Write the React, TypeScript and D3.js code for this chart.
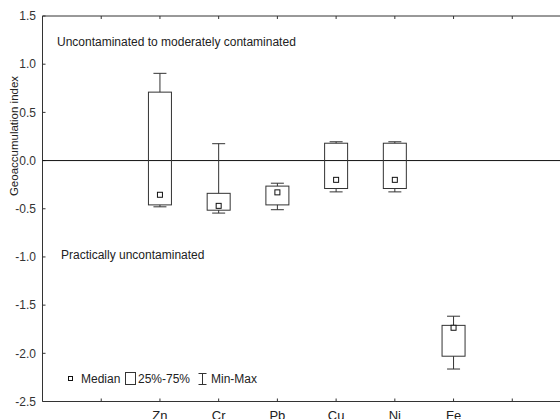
import React from "react";
import * as d3 from "d3";

// element groups, one box per element
const categories = ["Zn", "Cr", "Pb", "Cu", "Ni", "Fe"];
const minValues = [-0.48, -0.545, -0.51, -0.325, -0.325, -2.163];
const q1Values = [-0.46, -0.515, -0.46, -0.29, -0.29, -2.03];
const medianValues = [-0.355, -0.47, -0.33, -0.2, -0.2, -1.735];
const q3Values = [0.71, -0.34, -0.265, 0.18, 0.18, -1.71];
const maxValues = [0.905, 0.175, -0.235, 0.195, 0.195, -1.615];

const yTicks = [-2.5, -2.0, -1.5, -1.0, -0.5, 0.0, 0.5, 1.0, 1.5];
const xSlots = [1, 2, 3, 4, 5, 6, 7, 8];

const width = 560;
const height = 419;
const font = "'Liberation Sans', Arial, sans-serif";
const ink = "#333";

const App = () => {
  const x = d3.scaleLinear().domain([0, 9]).range([42.5, 571]);
  const y = d3.scaleLinear().domain([-2.5, 1.5]).range([401.5, 16]);
  const left = x(0);
  const top = y(1.5);
  const bottom = y(-2.5);
  const boxW = 23;
  const capW = 13;

  const boxes = categories.map((name, i) => ({
    name,
    cx: x(i + 2),
    min: minValues[i],
    q1: q1Values[i],
    med: medianValues[i],
    q3: q3Values[i],
    max: maxValues[i],
  }));

  return (
    <svg
      width={width}
      height={height}
      style={{ position: "absolute", left: 0, top: 0, background: "#fff" }}
      fontFamily={font}
    >
      <rect width={width} height={height} fill="#fff" />

      {/* frame */}
      <line x1={left} x2={width} y1={top} y2={top} stroke={ink} />
      <line x1={left} x2={width} y1={bottom} y2={bottom} stroke={ink} />
      <line x1={left} x2={left} y1={top} y2={bottom} stroke={ink} />

      {/* x ticks, inside on top and bottom */}
      {xSlots.map((s) => (
        <g key={s}>
          <line x1={x(s)} x2={x(s)} y1={top} y2={top + 3} stroke={ink} />
          <line x1={x(s)} x2={x(s)} y1={bottom} y2={bottom - 3} stroke={ink} />
        </g>
      ))}
      {categories.map((c, i) => (
        <text
          key={c}
          x={x(i + 2)}
          y={420}
          textAnchor="middle"
          fontSize={13}
          fill="#222"
        >
          {c}
        </text>
      ))}

      {/* y ticks */}
      {yTicks.map((t) => (
        <g key={t}>
          <line x1={left} x2={left + 3} y1={y(t)} y2={y(t)} stroke={ink} />
          <text
            x={36}
            y={y(t)}
            dy="0.35em"
            textAnchor="end"
            fontSize={12}
            fill="#333"
          >
            {t.toFixed(1)}
          </text>
        </g>
      ))}

      <text
        transform={`translate(18,136) rotate(-90)`}
        textAnchor="middle"
        fontSize={11.5}
        fill="#222"
      >
        Geoaccumulation index
      </text>

      {/* reference line at 0 */}
      <line x1={left} x2={width} y1={y(0)} y2={y(0)} stroke="#111" />

      {/* boxes */}
      {boxes.map((b) => (
        <g key={b.name} stroke={ink} fill="none">
          <line x1={b.cx} x2={b.cx} y1={y(b.max)} y2={y(b.q3)} />
          <line x1={b.cx} x2={b.cx} y1={y(b.q1)} y2={y(b.min)} />
          <line x1={b.cx - capW / 2} x2={b.cx + capW / 2} y1={y(b.max)} y2={y(b.max)} />
          <line x1={b.cx - capW / 2} x2={b.cx + capW / 2} y1={y(b.min)} y2={y(b.min)} />
          <rect
            x={b.cx - boxW / 2}
            y={y(b.q3)}
            width={boxW}
            height={y(b.q1) - y(b.q3)}
          />
          <rect
            x={b.cx - 2.5}
            y={y(b.med) - 2.5}
            width={5}
            height={5}
            fill="#fff"
            stroke="#111"
          />
        </g>
      ))}

      {/* annotations */}
      <text x={57} y={46} fontSize={12} fill="#222">
        Uncontaminated to moderately contaminated
      </text>
      <text x={61} y={259} fontSize={12} fill="#222">
        Practically uncontaminated
      </text>

      {/* legend */}
      <g fontSize={12} fill="#222">
        <rect x={68.5} y={376.5} width={4} height={4} fill="#fff" stroke="#111" />
        <text x={81} y={383}>Median</text>
        <rect x={125.5} y={372.5} width={10} height={12} fill="#fff" stroke={ink} />
        <text x={138} y={383}>25%-75%</text>
        <g stroke={ink}>
          <line x1={198.5} x2={206.5} y1={373.5} y2={373.5} />
          <line x1={198.5} x2={206.5} y1={384.5} y2={384.5} />
          <line x1={202.5} x2={202.5} y1={373.5} y2={384.5} />
        </g>
        <text x={211} y={383}>Min-Max</text>
      </g>
    </svg>
  );
};

export default App;
